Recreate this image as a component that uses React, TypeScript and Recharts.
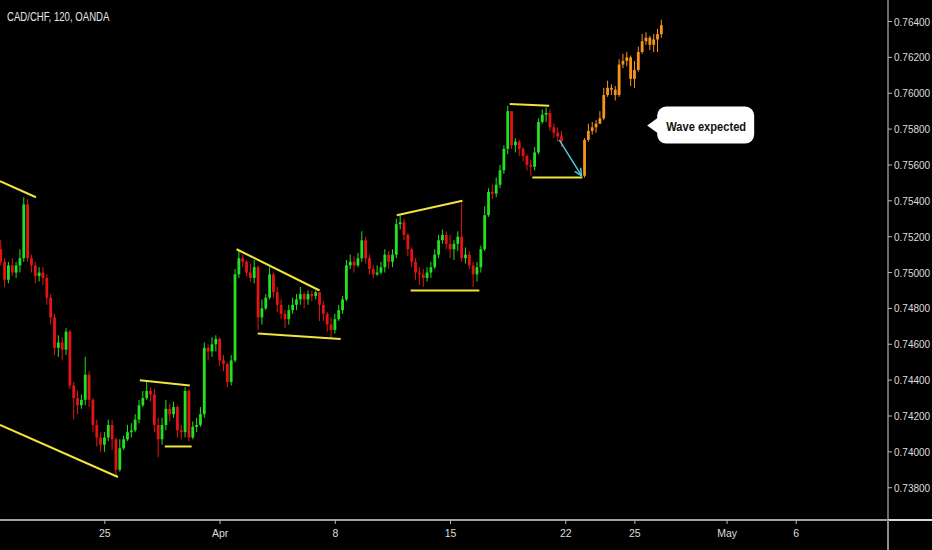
import React from 'react';
import { ComposedChart, Bar, XAxis, YAxis, ReferenceLine, ReferenceDot } from 'recharts';

// CAD/CHF, values in pips (0.0001). x is a 4h bar index, bar 0 = Mar 18 noon-ish
const FIRST_OPEN = 7513;
const closes = [
  7506, 7496, 7504, 7500, 7504, 7508, 7538, 7508, 7504, 7498, 7500, 7497, 7486, 7475, 7458, 7461,
  7457, 7467, 7437, 7430, 7426, 7429, 7443, 7429, 7415, 7408, 7404, 7408, 7415, 7407, 7390, 7402,
  7407, 7411, 7412, 7418, 7426, 7430, 7434, 7432, 7415, 7407, 7415, 7424, 7421, 7425, 7412, 7411,
  7434, 7408, 7414, 7415, 7421, 7458, 7456, 7460, 7463, 7451, 7449, 7439, 7451, 7499, 7508, 7506,
  7500, 7497, 7503, 7475, 7480, 7486, 7499, 7489, 7482, 7477, 7474, 7479, 7482, 7485, 7488, 7485,
  7488, 7487, 7489, 7482, 7477, 7471, 7468, 7474, 7479, 7485, 7504, 7506, 7504, 7508, 7518, 7508,
  7502, 7499, 7500, 7503, 7510, 7506, 7510, 7527, 7528, 7521, 7513, 7506, 7500, 7499, 7497, 7500,
  7503, 7510, 7518, 7521, 7516, 7513, 7516, 7520, 7508, 7510, 7504, 7499, 7503, 7513, 7532, 7545,
  7544, 7549, 7557, 7569, 7590, 7571, 7573, 7569, 7565, 7560, 7559, 7567, 7584, 7588, 7589, 7581,
  7578, 7576, 7573,
];
const highs = [
  7518, 7508, 7506, 7508, 7506, 7513, 7542, 7541, 7510, 7506, 7503, 7503, 7499, 7488, 7477, 7465,
  7464, 7469, 7468, 7439, 7434, 7432, 7453, 7445, 7430, 7418, 7411, 7411, 7418, 7418, 7408, 7407,
  7409, 7415, 7416, 7421, 7429, 7434, 7440, 7436, 7435, 7419, 7419, 7429, 7427, 7428, 7426, 7415,
  7436, 7435, 7417, 7419, 7425, 7461, 7460, 7464, 7465, 7464, 7454, 7450, 7454, 7502, 7512, 7510,
  7507, 7505, 7507, 7504, 7485, 7488, 7503, 7500, 7492, 7485, 7479, 7482, 7486, 7488, 7492, 7489,
  7490, 7490, 7490, 7489, 7484, 7478, 7475, 7477, 7482, 7487, 7507, 7510, 7509, 7511, 7523, 7520,
  7510, 7504, 7504, 7506, 7513, 7512, 7513, 7530, 7532, 7530, 7522, 7514, 7508, 7503, 7502, 7503,
  7506, 7513, 7521, 7524, 7523, 7521, 7518, 7523, 7539, 7514, 7512, 7506, 7506, 7515, 7537, 7547,
  7549, 7553, 7560, 7571, 7593, 7588, 7575, 7574, 7570, 7566, 7563, 7570, 7586, 7591, 7592, 7591,
  7583, 7581, 7579,
];
const lows = [
  7504, 7492, 7494, 7498, 7497, 7500, 7506, 7506, 7500, 7494, 7495, 7493, 7482, 7471, 7454, 7453,
  7451, 7454, 7435, 7418, 7421, 7424, 7426, 7425, 7411, 7403, 7400, 7400, 7406, 7401, 7386, 7389,
  7401, 7406, 7408, 7411, 7416, 7425, 7429, 7428, 7411, 7397, 7404, 7412, 7417, 7419, 7408, 7407,
  7408, 7406, 7407, 7411, 7414, 7419, 7451, 7453, 7456, 7448, 7445, 7436, 7437, 7450, 7497, 7503,
  7498, 7495, 7494, 7468, 7471, 7479, 7485, 7486, 7478, 7474, 7469, 7471, 7477, 7479, 7482, 7480,
  7482, 7484, 7485, 7473, 7473, 7467, 7463, 7466, 7473, 7477, 7484, 7502, 7500, 7503, 7506, 7505,
  7499, 7497, 7498, 7499, 7500, 7502, 7503, 7508, 7524, 7518, 7509, 7503, 7496, 7493, 7492, 7495,
  7497, 7502, 7508, 7516, 7513, 7508, 7507, 7512, 7506, 7505, 7502, 7492, 7495, 7500, 7512, 7531,
  7541, 7542, 7547, 7555, 7566, 7569, 7567, 7565, 7562, 7557, 7554, 7557, 7566, 7583, 7584, 7579,
  7575, 7573, 7570,
];

// projected path ("Wave expected"), drawn in orange
const PROJ_START = 152;
const PROJ_FIRST_OPEN = 7554;
const projCloses = [7574, 7579, 7581, 7583, 7586, 7599, 7603, 7602, 7599, 7616, 7618, 7620, 7608, 7613, 7623, 7629, 7631, 7627, 7630, 7633, 7638];
const projHighs = [7575, 7583, 7584, 7585, 7590, 7603, 7607, 7605, 7604, 7619, 7622, 7623, 7621, 7618, 7626, 7633, 7634, 7632, 7633, 7636, 7641];
const projLows = [7553, 7573, 7577, 7578, 7583, 7585, 7598, 7599, 7596, 7598, 7614, 7615, 7604, 7603, 7612, 7622, 7627, 7624, 7623, 7623, 7631];

const tickBars = [27, 57, 87, 117, 147, 165, 189, 207];
const tickLabels = ['25', 'Apr', '8', '15', '22', '25', 'May', '6'];
const priceTicks = [7380, 7400, 7420, 7440, 7460, 7480, 7500, 7520, 7540, 7560, 7580, 7600, 7620, 7640];

// drawn pattern lines: [bar, pips] pairs
const trendLines = [
  [[-0.3, 7551], [9.06, 7542]],
  [[-0.3, 7415], [30.4, 7386]],
  [[36.1, 7440], [49.1, 7437]],
  [[42.6, 7403], [49.6, 7403]],
  [[61.3, 7513], [82.9, 7490]],
  [[66.8, 7466], [88.4, 7463]],
  [[103, 7532], [120.1, 7540]],
  [[106.6, 7490], [124.5, 7490]],
  [[132.4, 7594], [142.7, 7593]],
  [[138.3, 7553], [151.3, 7553]],
];
const arrowLine = [[145.3, 7574], [151.1, 7554]];
const note = { bar: 168.2, price: 7582, text: 'Wave expected' };

const GREEN = '#22e022';
const RED = '#e41414';
const ORANGE = '#f7941d';
const YELLOW = '#f2e43a';
const CYAN = '#4cc9dc';
const FONT = '"Liberation Sans", Arial, sans-serif';

const candles = [
  ...closes.map((c, i) => ({
    bar: i, open: i === 0 ? FIRST_OPEN : closes[i - 1], close: c, high: highs[i], low: lows[i], proj: false,
  })),
  ...projCloses.map((c, i) => ({
    bar: PROJ_START + i, open: i === 0 ? PROJ_FIRST_OPEN : projCloses[i - 1], close: c,
    high: projHighs[i], low: projLows[i], proj: true,
  })),
];

const Candle = (props: any) => {
  const { x, y, width, height, payload } = props;
  if (!payload) return null;
  const top = Math.min(y, y + height);
  const h = Math.abs(height);
  const { open, close, high, low, proj } = payload;
  const ppu = h / (high - low);
  const bodyTop = top + (high - Math.max(open, close)) * ppu;
  const bodyH = Math.max(1, Math.abs(open - close) * ppu);
  const color = proj ? ORANGE : close >= open ? GREEN : RED;
  const cx = x + width / 2;
  return (
    <g>
      <line x1={cx} x2={cx} y1={top} y2={top + h} stroke={color} strokeWidth={1} />
      <rect x={cx - 1.4} y={bodyTop} width={2.8} height={bodyH} fill={color} />
    </g>
  );
};

const PriceTick = (props: any) => {
  const { x, y, payload } = props;
  return (
    <text x={x} y={y} dy={4} fill="#dddddd" fontSize={10} fontFamily={FONT}>
      {(payload.value / 10000).toFixed(5)}
    </text>
  );
};

const DateTick = (props: any) => {
  const { x, y, payload } = props;
  return (
    <text x={x} y={y} dy={9} fill="#dddddd" fontSize={10.5} fontFamily={FONT} textAnchor="middle">
      {tickLabels[tickBars.indexOf(payload.value)]}
    </text>
  );
};

const Arrow = (props: any) => {
  const { x1, y1, x2, y2 } = props;
  const a = Math.atan2(y2 - y1, x2 - x1);
  const len = 8;
  const p1 = [x2 - len * Math.cos(a - 0.45), y2 - len * Math.sin(a - 0.45)];
  const p2 = [x2 - len * Math.cos(a + 0.45), y2 - len * Math.sin(a + 0.45)];
  return (
    <g stroke={CYAN} strokeWidth={1.5} fill="none">
      <line x1={x1} y1={y1} x2={x2} y2={y2} />
      <polyline points={`${p1[0]},${p1[1]} ${x2},${y2} ${p2[0]},${p2[1]}`} />
    </g>
  );
};

const Bubble = (props: any) => {
  const { cx, cy } = props;
  const bx = cx + 10;
  return (
    <g>
      <rect x={bx} y={cy - 19} width={97} height={37} rx={9} fill="#ffffff" />
      <path d={`M${bx + 1},${cy - 8} L${cx},${cy} L${bx + 1},${cy + 8} Z`} fill="#ffffff" />
      <text x={bx + 9} y={cy + 5} fontSize={13} fontWeight={600} fill="#131313" fontFamily={FONT}
        textLength={80} lengthAdjust="spacingAndGlyphs">
        {note.text}
      </text>
    </g>
  );
};

export default function App() {
  return (
    <div style={{ position: 'absolute', left: 0, top: 0, width: 932, height: 550, background: '#000', overflow: 'hidden' }}>
      <ComposedChart width={932} height={550} data={candles} margin={{ top: 0, right: 0, bottom: 0, left: 0 }}>
        <XAxis
          dataKey="bar"
          type="number"
          domain={[-0.3, 230.9]}
          allowDataOverflow
          ticks={tickBars}
          interval={0}
          height={30}
          axisLine={{ stroke: '#d8d8d8', strokeWidth: 1.5 }}
          tickLine={{ stroke: '#bbbbbb' }}
          tickSize={4}
          tickMargin={4}
          tick={<DateTick />}
        />
        <YAxis
          orientation="right"
          type="number"
          domain={[7362, 7652]}
          allowDataOverflow
          ticks={priceTicks}
          interval={0}
          width={44}
          axisLine={{ stroke: '#8c8c8c', strokeWidth: 1.5 }}
          tickLine={{ stroke: '#bbbbbb' }}
          tickSize={4}
          tickMargin={2}
          tick={<PriceTick />}
        />
        <Bar
          dataKey={(r: any) => [r.low, r.high]}
          barSize={3}
          shape={<Candle />}
          isAnimationActive={false}
        />
        {trendLines.map((seg, i) => (
          <ReferenceLine
            key={i}
            segment={[{ x: seg[0][0], y: seg[0][1] }, { x: seg[1][0], y: seg[1][1] }]}
            stroke={YELLOW}
            strokeWidth={2}
            ifOverflow="visible"
          />
        ))}
        <ReferenceLine
          segment={[{ x: arrowLine[0][0], y: arrowLine[0][1] }, { x: arrowLine[1][0], y: arrowLine[1][1] }]}
          shape={<Arrow />}
          ifOverflow="visible"
        />
        <ReferenceDot x={note.bar} y={note.price} r={0} shape={<Bubble />} ifOverflow="visible" />
      </ComposedChart>
      <div style={{
        position: 'absolute', left: 7, top: 10, color: '#e6e6e6', fontFamily: FONT, fontSize: 12,
        transform: 'scaleX(0.8)', transformOrigin: 'left top', whiteSpace: 'nowrap',
      }}>
        CAD/CHF, 120, OANDA
      </div>
      <div style={{ position: 'absolute', left: 888, top: 519, width: 44, height: 2, background: '#d8d8d8' }} />
      <div style={{ position: 'absolute', left: 887, top: 520, width: 2, height: 30, background: '#8c8c8c' }} />
    </div>
  );
}
